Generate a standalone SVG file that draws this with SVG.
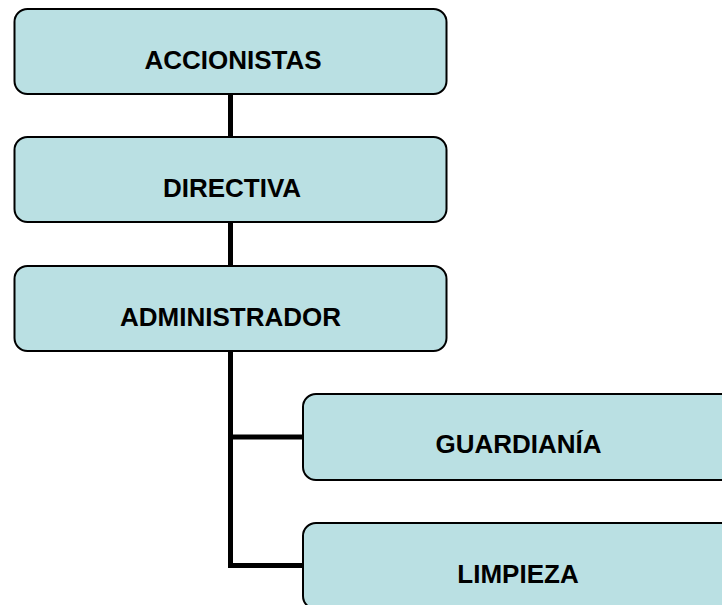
<svg xmlns="http://www.w3.org/2000/svg" width="722" height="605" viewBox="0 0 722 605">
<style>
.box{fill:#BAE0E3;stroke:#000;stroke-width:2}
.lbl{font-family:"Liberation Sans",Arial,sans-serif;font-weight:bold;font-size:26px;fill:#000;text-anchor:middle}
.con{fill:none;stroke:#000;stroke-width:5}
</style>
<rect width="722" height="605" fill="#fff"/>
<g id="connectors">
<line class="con" x1="230.5" y1="94" x2="230.5" y2="137"/>
<line class="con" x1="230.5" y1="222" x2="230.5" y2="266"/>
<polyline class="con" points="230.5,351 230.5,565.5 303,565.5"/>
<line class="con" x1="230.5" y1="437" x2="303" y2="437"/>
</g>
<g id="accionistas">
<rect class="box" x="14.5" y="9" width="432" height="85" rx="13"/>
<text class="lbl" x="233" y="69">ACCIONISTAS</text>
</g>
<g id="directiva">
<rect class="box" x="14.5" y="137" width="432" height="85" rx="13"/>
<text class="lbl" x="232" y="197">DIRECTIVA</text>
</g>
<g id="administrador">
<rect class="box" x="14.5" y="266" width="432" height="85" rx="13"/>
<text class="lbl" x="230.5" y="326">ADMINISTRADOR</text>
</g>
<g id="guardiania">
<rect class="box" x="303" y="394" width="432" height="86" rx="13"/>
<text class="lbl" x="518.5" y="453">GUARDIANÍA</text>
</g>
<g id="limpieza">
<rect class="box" x="303" y="523" width="432" height="86" rx="13"/>
<text class="lbl" x="518" y="583">LIMPIEZA</text>
</g>
</svg>
